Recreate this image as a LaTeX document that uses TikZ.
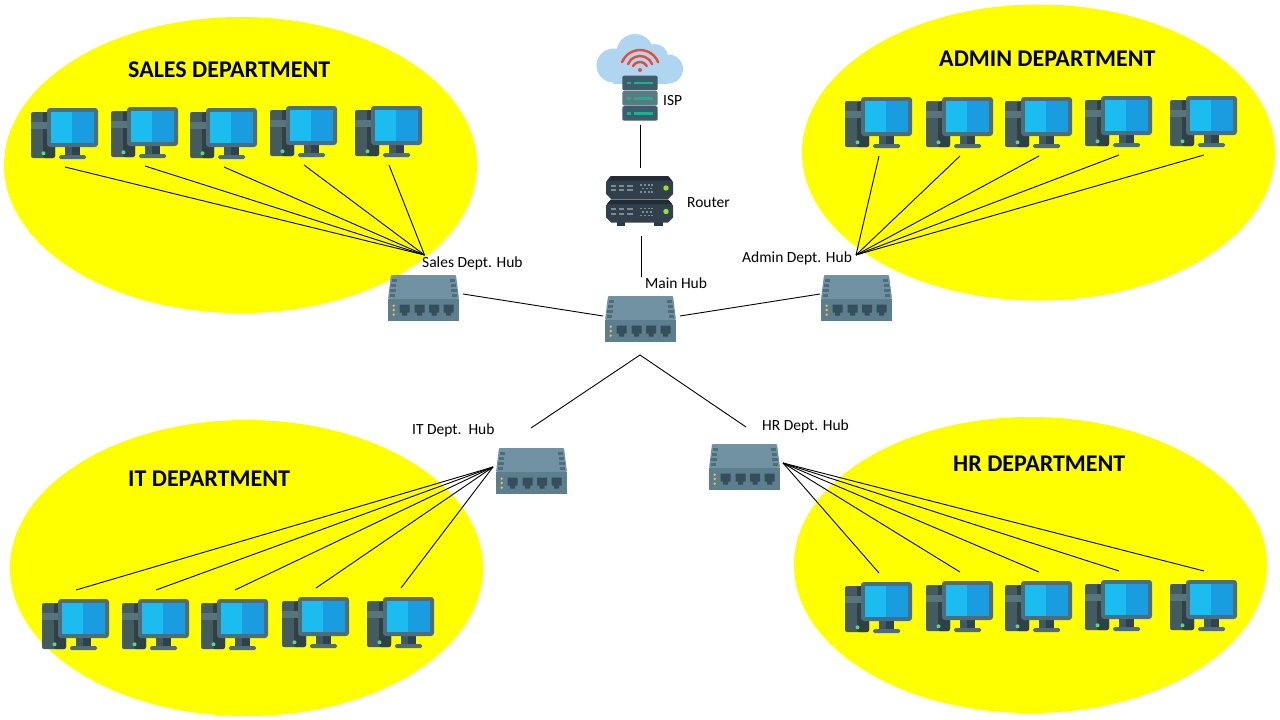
\documentclass[tikz,border=0pt]{standalone}
\usepackage{fontspec}
\setmainfont{Carlito}
\usetikzlibrary{shapes.geometric}
\definecolor{zoneyellow}{RGB}{255, 255, 0}
\definecolor{towerdark}{RGB}{68, 91, 96}
\definecolor{towershade}{RGB}{47, 65, 69}
\definecolor{towerband}{RGB}{88, 116, 124}
\definecolor{monitorframe}{RGB}{79, 108, 122}
\definecolor{screenlight}{RGB}{27, 189, 240}
\definecolor{screendark}{RGB}{26, 156, 224}
\definecolor{standdark}{RGB}{45, 66, 74}
\definecolor{standlight}{RGB}{64, 90, 100}
\definecolor{ledgreen}{RGB}{92, 214, 140}
\definecolor{hubtop}{RGB}{112, 146, 163}
\definecolor{hubfront}{RGB}{93, 126, 143}
\definecolor{hubvent}{RGB}{78, 108, 124}
\definecolor{hubport}{RGB}{52, 78, 90}
\definecolor{hubled}{RGB}{250, 190, 50}
\definecolor{routerbody}{RGB}{50, 64, 76}
\definecolor{routertop}{RGB}{33, 44, 54}
\definecolor{routerfoot}{RGB}{40, 58, 82}
\definecolor{routerdot}{RGB}{122, 140, 152}
\definecolor{routerled}{RGB}{150, 230, 40}
\definecolor{cloudblue}{RGB}{176, 213, 240}
\definecolor{wifired}{RGB}{233, 76, 50}
\definecolor{rackdark}{RGB}{62, 92, 108}
\definecolor{rackmid}{RGB}{88, 122, 130}
\definecolor{rackgreen}{RGB}{24, 178, 142}
\tikzset{
  deptzone/.style={ellipse, fill=zoneyellow, minimum width=473, minimum height=296, inner sep=0pt},
  depttitle/.style={font=\fontsize{24}{26}\selectfont\bfseries, anchor=west, inner sep=0pt},
  hublabel/.style={font=\fontsize{15.5}{18}\selectfont, anchor=west, inner sep=0pt},
  wire/.style={draw=black, line width=0.9pt},
  wifiarc/.style={draw=wifired, line width=2.4pt, line cap=round},
  pcicon/.pic={
    \fill[towerdark, rounded corners=2] (0,4) rectangle (24,50);
    \fill[towershade, rounded corners=2] (12,4) rectangle (24,50);
    \fill[towerband] (0,14) rectangle (16,20.5);
    \fill[ledgreen] (12.5,45.3) circle (2);
    \fill[standlight] (34,39) rectangle (41,49);
    \fill[standdark] (41,39) rectangle (49,49);
    \fill[monitorframe, rounded corners=1.5] (28,47) rectangle (55,51);
    \fill[monitorframe, rounded corners=3] (16,0) rectangle (67,39);
    \fill[screenlight] (20,4) rectangle (41,35);
    \fill[screendark] (41,4) rectangle (63,35);
    \coordinate (-bottom) at (34,59);
    \coordinate (-top) at (34,-9);
  },
  hubicon/.pic={
    \fill[hubtop, rounded corners=1] (3,0) -- (68,0) -- (71,24) -- (0,24) -- cycle;
    \fill[hubfront] (0,24) rectangle (71,46.3);
    \foreach \v/\s in {4/3.6,9/3,14/2.4,19/1.8} {
      \fill[hubvent] (\s,\v) rectangle (\s+5.4,\v+2.5);
      \fill[hubvent] (71-\s-5.4,\v) rectangle (71-\s,\v+2.5);
    }
    \foreach \u in {11.7,26.7,41,55.7} {
      \fill[hubport] (\u,29.7) -- (\u+10,29.7) -- (\u+10,37.5) -- (\u+7.5,37.5) -- (\u+7.5,40.7) -- (\u+2.5,40.7) -- (\u+2.5,37.5) -- (\u,37.5) -- cycle;
    }
    \foreach \v in {30.7,35,39.7} {
      \fill[hubled] (5.7,\v) circle (1.3);
    }
  },
  routerunit/.pic={
    \fill[routerbody] (5,0) -- (62,0) -- (67,6) -- (67,18) -- (62,23) -- (5,23) -- (0,18) -- (0,6) -- cycle;
    \fill[routertop] (5,0) -- (62,0) -- (66,4.5) -- (1,4.5) -- cycle;
    \foreach \u in {4.7,13,21.3} {
      \fill[routerdot] (\u,8.7) rectangle (\u+5.4,10.7);
      \fill[routerdot] (\u,13.3) rectangle (\u+5.4,15.3);
    }
    \foreach \u/\v in {34/8,38/8,42/8,45/8,36/11.5,40/11.5,44/11.5,34/15,38/15,42/15,45/15} {
      \fill[routerdot] (\u,\v) rectangle (\u+1.5,\v+1.5);
    }
    \fill[routerled] (60,12) circle (2.7);
  },
  rackunit/.pic={
    \fill[rounded corners=2] (0,0) rectangle (35.4,14.6);
    \fill[rackgreen] (4.5,5.8) rectangle (8.3,8.7);
    \fill[rackgreen] (12,5.8) rectangle (31,8.7);
  }
}
\begin{document}
\begin{tikzpicture}[x=1pt, y=-1pt]
  \useasboundingbox (0,0) rectangle (1280,720);

  % Department zones
  \node[deptzone] (salesZone) at (240.5,165) {};
  \node[deptzone] (adminZone) at (1038.5,152.5) {};
  \node[deptzone] (itZone) at (246.5,568) {};
  \node[deptzone] (hrZone) at (1030.5,565) {};

  % Zone titles
  \node[depttitle] (salesTitle) at (128,70) {SALES DEPARTMENT};
  \node[depttitle] (adminTitle) at (939,59) {ADMIN DEPARTMENT};
  \node[depttitle] (itTitle) at (128,479) {IT DEPARTMENT};
  \node[depttitle] (hrTitle) at (953,464) {HR DEPARTMENT};

  % Cloud and ISP rack
  \fill[cloudblue] (613.5,65.5) circle (17);
  \fill[cloudblue] (635,52.5) circle (18.5);
  \fill[cloudblue] (655,57) circle (13);
  \fill[cloudblue] (668.5,69) circle (14.5);
  \fill[cloudblue] (613,60) rectangle (668,83.5);
  \draw[wifiarc] (622,62.2) arc (202:338:19.5);
  \draw[wifiarc] (628,64.1) arc (202:338:13);
  \draw[wifiarc] (633,66) arc (210:330:8);
  \fill[wifired] (640,70) circle (2);
  \pic[rackdark] at (622.3,75.7) {rackunit};
  \pic[rackmid] at (622.3,90.9) {rackunit};
  \pic[rackdark] at (622.3,106.1) {rackunit};

  % Router
  \fill[routerfoot] (616.7,220) rectangle (625,226);
  \fill[routerfoot] (654,220) rectangle (663.3,226);
  \pic at (606,176) {routerunit};
  \pic at (606,199.5) {routerunit};

  % Hubs
  \pic at (605,296) {hubicon};
  \pic at (388,275) {hubicon};
  \pic at (821,275) {hubicon};
  \pic at (496,448) {hubicon};
  \pic at (709,444) {hubicon};

  % Computers
  \pic (salesPcA) at (31,108) {pcicon};
  \pic (salesPcB) at (111,107) {pcicon};
  \pic (salesPcC) at (190,108) {pcicon};
  \pic (salesPcD) at (270,106) {pcicon};
  \pic (salesPcE) at (355,106) {pcicon};

  \pic (adminPcA) at (845,97) {pcicon};
  \pic (adminPcB) at (926,97) {pcicon};
  \pic (adminPcC) at (1005,97) {pcicon};
  \pic (adminPcD) at (1085,96) {pcicon};
  \pic (adminPcE) at (1170,96) {pcicon};

  \pic (itPcA) at (42,599) {pcicon};
  \pic (itPcB) at (122,599) {pcicon};
  \pic (itPcC) at (201,599) {pcicon};
  \pic (itPcD) at (282,597) {pcicon};
  \pic (itPcE) at (367,597) {pcicon};

  \pic (hrPcA) at (845,582) {pcicon};
  \pic (hrPcB) at (926,581) {pcicon};
  \pic (hrPcC) at (1005,581) {pcicon};
  \pic (hrPcD) at (1085,580) {pcicon};
  \pic (hrPcE) at (1170,580) {pcicon};

  % Free ends of the wires
  \coordinate (salesJoin) at (424.5,255);
  \coordinate (adminJoin) at (856,255);
  \coordinate (itJoin) at (493,467);
  \coordinate (hrJoin) at (783,463);
  \coordinate (ispEnd) at (640,125);
  \coordinate (routerTop) at (640,168);
  \coordinate (routerEnd) at (641,236);
  \coordinate (mainTop) at (641,277);
  \coordinate (salesHubEnd) at (463,294);
  \coordinate (mainLeft) at (603,316);
  \coordinate (mainRight) at (680,316);
  \coordinate (adminHubEnd) at (820,294);
  \coordinate (itHubEnd) at (531,428);
  \coordinate (mainBottom) at (640,355);
  \coordinate (hrHubEnd) at (746,427);

  % Backbone
  \draw[wire] (ispEnd) -- (routerTop);
  \draw[wire] (routerEnd) -- (mainTop);
  \draw[wire] (salesHubEnd) -- (mainLeft);
  \draw[wire] (mainRight) -- (adminHubEnd);
  \draw[wire] (itHubEnd) -- (mainBottom) -- (hrHubEnd);

  % Department wires
  \draw[wire] (salesPcA-bottom) -- (salesJoin);
  \draw[wire] (salesPcB-bottom) -- (salesJoin);
  \draw[wire] (salesPcC-bottom) -- (salesJoin);
  \draw[wire] (salesPcD-bottom) -- (salesJoin);
  \draw[wire] (salesPcE-bottom) -- (salesJoin);

  \draw[wire] (adminPcA-bottom) -- (adminJoin);
  \draw[wire] (adminPcB-bottom) -- (adminJoin);
  \draw[wire] (adminPcC-bottom) -- (adminJoin);
  \draw[wire] (adminPcD-bottom) -- (adminJoin);
  \draw[wire] (adminPcE-bottom) -- (adminJoin);

  \draw[wire] (itPcA-top) -- (itJoin);
  \draw[wire] (itPcB-top) -- (itJoin);
  \draw[wire] (itPcC-top) -- (itJoin);
  \draw[wire] (itPcD-top) -- (itJoin);
  \draw[wire] (itPcE-top) -- (itJoin);

  \draw[wire] (hrPcA-top) -- (hrJoin);
  \draw[wire] (hrPcB-top) -- (hrJoin);
  \draw[wire] (hrPcC-top) -- (hrJoin);
  \draw[wire] (hrPcD-top) -- (hrJoin);
  \draw[wire] (hrPcE-top) -- (hrJoin);

  % Labels
  \node[hublabel] (ispLabel) at (663,101) {ISP};
  \node[hublabel] (routerLabel) at (687,203) {Router};
  \node[hublabel] (mainLabel) at (645,283) {Main Hub};
  \node[hublabel] (salesLabel) at (422,263) {Sales Dept. Hub};
  \node[hublabel] (adminLabel) at (742,258) {Admin\ Dept. Hub};
  \node[hublabel] (itLabel) at (412,430) {IT Dept.\ \ Hub};
  \node[hublabel] (hrLabel) at (762,426) {HR Dept. Hub};
\end{tikzpicture}
\end{document}
